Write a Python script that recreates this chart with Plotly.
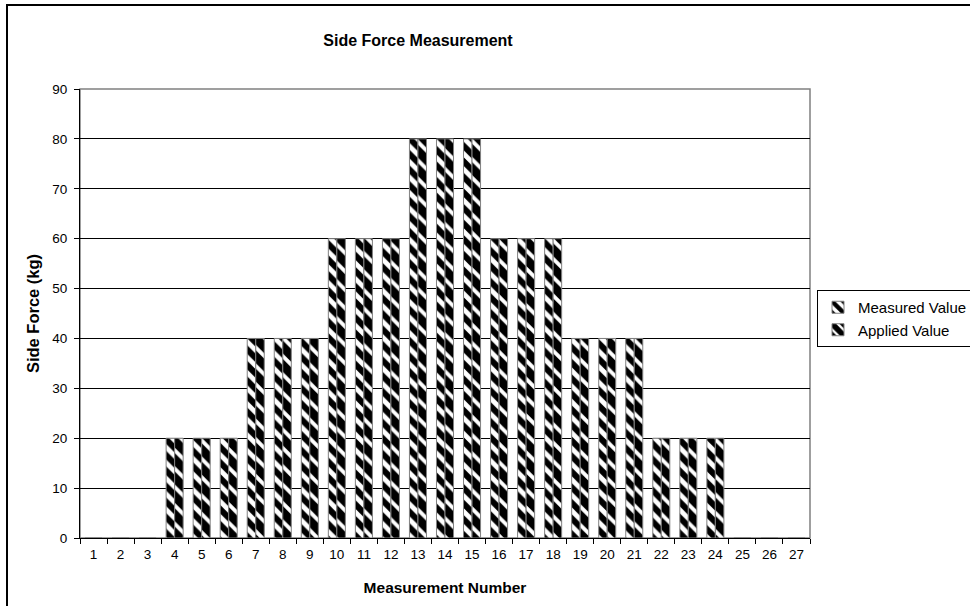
import plotly.graph_objects as go

# Measurement numbers and side force readings (kg)
measurement_numbers = [str(i) for i in range(1, 28)]
measured_values = [0, 0, 0, 20, 20, 20, 40, 40, 40, 60, 60, 60, 80, 80, 80,
                   60, 60, 60, 40, 40, 40, 20, 20, 20, 0, 0, 0]
applied_values = [0, 0, 0, 20, 20, 20, 40, 40, 40, 60, 60, 60, 80, 80, 80,
                  60, 60, 60, 40, 40, 40, 20, 20, 20, 0, 0, 0]
y_ticks = list(range(0, 100, 10))

FONT = "Liberation Sans, Arial, sans-serif"
W, H = 970, 606
L, R, T, B = 80, 160, 89, 68
PW, PH = W - L - R, H - T - B


def px_x(px):
    return (px - L) / PW


def px_y(py):
    return (H - B - py) / PH


fig = go.Figure()
fig.add_trace(go.Bar(
    x=measurement_numbers, y=measured_values, name="Measured Value",
    marker=dict(color="white", line=dict(color="#808080", width=1),
                pattern=dict(shape="\\", fgcolor="black", bgcolor="white",
                             size=11, solidity=0.55, fillmode="replace")),
))
fig.add_trace(go.Bar(
    x=measurement_numbers, y=applied_values, name="Applied Value",
    marker=dict(color="white", line=dict(color="#808080", width=1),
                pattern=dict(shape="\\", fgcolor="black", bgcolor="white",
                             size=13, solidity=0.7, fillmode="replace")),
))

fig.update_layout(
    width=W, height=H,
    margin=dict(l=L, r=R, t=T, b=B, autoexpand=False),
    paper_bgcolor="white", plot_bgcolor="white",
    barmode="group", bargap=0.37, bargroupgap=0.0,
    font=dict(family=FONT, color="black", size=13),
    title=dict(text="<b>Side Force Measurement</b>", x=418 / W,
               xanchor="center", y=1 - 40 / H, yanchor="middle",
               font=dict(size=16, family=FONT, color="black")),
    showlegend=True,
    legend=dict(x=px_x(817), y=px_y(290), xanchor="left", yanchor="top",
                bordercolor="black", borderwidth=1, bgcolor="white",
                font=dict(size=15, family=FONT), tracegroupgap=0,
                itemwidth=30, traceorder="normal"),
    shapes=[
        # outer chart frame
        dict(type="rect", xref="paper", yref="paper",
             x0=px_x(7), x1=px_x(990), y0=px_y(625), y1=px_y(5),
             line=dict(color="black", width=2), layer="below"),
        # plot area frame
        dict(type="rect", xref="paper", yref="paper",
             x0=0, x1=1, y0=0, y1=1,
             line=dict(color="#808080", width=1.5), layer="below"),
    ],
)

fig.update_xaxes(
    type="category", showgrid=False, showline=True, linecolor="black",
    linewidth=1, ticks="outside", tickson="boundaries", ticklen=5,
    tickcolor="black", tickfont=dict(size=13.5), ticklabelstandoff=4,
    title=dict(text="<b>Measurement Number</b>", font=dict(size=15.5), standoff=20),
)
fig.update_yaxes(
    range=[0, 90], tickvals=y_ticks, showgrid=True, gridcolor="black",
    gridwidth=1, showline=True, linecolor="black", linewidth=1,
    ticks="outside", ticklen=5, tickcolor="black", tickfont=dict(size=13.5),
    ticklabelstandoff=4, zeroline=False,
    title=dict(text="<b>Side Force (kg)</b>", font=dict(size=16.5), standoff=8),
)

fig.write_html("out.html")
